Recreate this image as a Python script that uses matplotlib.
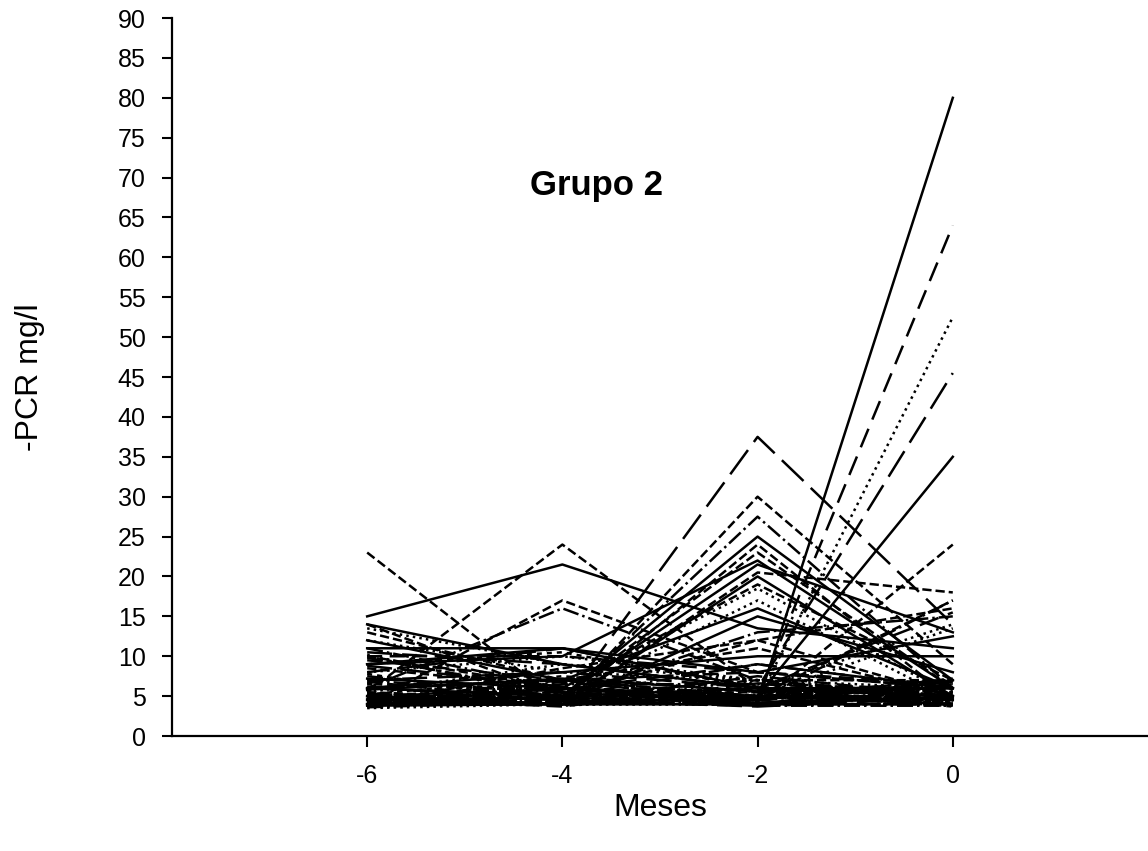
import matplotlib
matplotlib.use("Agg")
import matplotlib.pyplot as plt
from itertools import cycle

# meses antes del evento
meses = [-6, -4, -2, 0]

# PCR (mg/l) de cada paciente en -6, -4, -2 y 0 meses
pcr_m6 = [15, 23, 5.5, 4, 6, 5, 5, 4, 6, 5, 4, 4, 5, 4, 4, 4, 5, 4, 4, 6,
          12, 10, 8, 7, 9, 13.5, 14, 11, 4, 5, 6, 3.8,
          14, 13, 12, 11, 10.5, 10, 9.5, 9, 8.5, 8, 7.5, 7, 6.5, 6, 6, 5.5,
          5.5, 5, 5, 5, 4.5, 4.5, 4.5, 4, 4, 4, 4, 4, 3.8, 3.8, 3.5, 4.2,
          4.8, 5.2, 6.2, 7.2, 4, 4.4, 3.6, 5, 9, 10, 4.6, 3.9,
          10.2, 9.8, 8.8, 7.8, 6.8, 5.8, 4.3, 3.7, 4.1, 5.3, 6.6, 4.7,
          5, 4, 6, 4.5]
pcr_m4 = [21.5, 4, 24, 17, 16, 4, 4, 4.5, 5, 4, 5, 4, 6, 4, 5, 4, 4, 4, 5, 8,
          7, 6, 11, 5, 10, 9, 5, 11, 6, 4, 7, 5,
          9, 7, 8, 6, 9, 5, 7, 11, 6, 10, 5, 8, 6, 7, 5, 4.5,
          9, 6, 4, 5, 7, 4, 5, 4, 5, 6, 4, 4.5, 4, 5, 4, 6.5,
          5.5, 7.5, 4.2, 6, 8.5, 3.8, 4.4, 5.8, 10.5, 10, 4.8, 5.2,
          4.6, 5.4, 6.2, 3.9, 4.3, 7.2, 5, 4.1, 6.8, 4.5, 5.6, 3.7,
          4, 5, 4.5, 6]
pcr_m2 = [13.5, 5, 6, 8, 7, 37.5, 30, 27.5, 25, 24, 21.5, 20.5, 18.5, 4, 5, 4.5, 6, 5, 4, 10,
          16, 5, 6, 13, 22, 6, 12, 8, 19, 15, 11, 17,
          6, 5, 7, 5, 6, 4, 8, 6, 5, 7, 9, 6, 5, 4, 6, 5,
          7, 4, 5, 6, 5, 4, 7, 4, 5, 4, 6, 4, 5, 4, 4, 6.5,
          4.5, 5.5, 7.5, 4, 12, 5, 3.8, 9, 6, 8, 4.2, 5.5,
          5.2, 4.4, 3.9, 6.2, 4.8, 5.6, 4.1, 7, 4.6, 3.7, 5.8, 6.6,
          20, 23, 5, 4.5]
pcr_0 = [11, 5, 5, 6, 5, 14, 9, 6, 7, 4.5, 13, 18, 5, 80, 64, 52.5, 45.5, 35, 24, 10,
         6, 17, 15.5, 15, 6, 14, 5, 12.5, 7, 8, 5, 4.5,
         5, 4, 6, 4, 5, 4, 6, 5, 7, 4, 6, 5, 4, 5, 6, 4,
         5, 6, 5, 4, 6, 5, 7, 4, 6, 4, 5, 4, 4.5, 4, 4, 5.5,
         6.5, 4.2, 5, 7, 16, 4, 3.8, 6, 5, 6.5, 4.8, 5.5,
         4.3, 6.8, 5.2, 3.9, 4.6, 6, 5.4, 4.1, 7.2, 4.8, 3.7, 5.8,
         5, 6, 13.5, 17]

# estilos de linea de los pacientes destacados, el resto en ciclo
estilos_destacados = ['-', '--', '--', '--', '-.', (0, (12, 4)), '--', '-.', '-', '--',
                      '-', '--', ':', '-', (0, (8, 4)), ':', (0, (12, 4)), '-', '--', '-',
                      '-', '--', (0, (8, 4)), '-.', '-', ':', '--', '-',
                      '--', '-', '--', ':']
ciclo = cycle(['-', '--', ':', '-.', (0, (10, 4)), (0, (2, 2)), (0, (6, 3))])

plt.rcParams['font.family'] = ['Liberation Sans', 'DejaVu Sans']
plt.rcParams['axes.unicode_minus'] = False

fig = plt.figure(figsize=(11.48, 8.51), dpi=100)
ax = fig.add_axes([0.1498, 0.1351, 0.8502, 0.8437])

for i in range(len(pcr_m6)):
    if i < len(estilos_destacados):
        ls = estilos_destacados[i]
    else:
        ls = next(ciclo)
    ax.plot(meses, [pcr_m6[i], pcr_m4[i], pcr_m2[i], pcr_0[i]],
            color="black", lw=1.8, ls=ls)

ax.set_xlim(-8, 2)
ax.set_ylim(0, 90)
ax.set_xticks(meses)
ax.set_yticks(range(0, 91, 5))
ax.spines['top'].set_visible(False)
ax.spines['right'].set_visible(False)
ax.spines['left'].set_linewidth(1.6)
ax.spines['bottom'].set_linewidth(1.6)
ax.tick_params(axis='y', direction='out', length=7, width=1.5, pad=12, labelsize=18)
ax.tick_params(axis='x', direction='out', length=8, width=1.5, pad=12, labelsize=18)

ax.set_xlabel("Meses", fontsize=23, labelpad=4)
ax.set_ylabel("-PCR mg/l", fontsize=23, labelpad=52)
ax.text(-3.65, 69, "Grupo 2", fontsize=25, fontweight="bold", ha="center", va="center")

plt.savefig("out.png", dpi=100)
